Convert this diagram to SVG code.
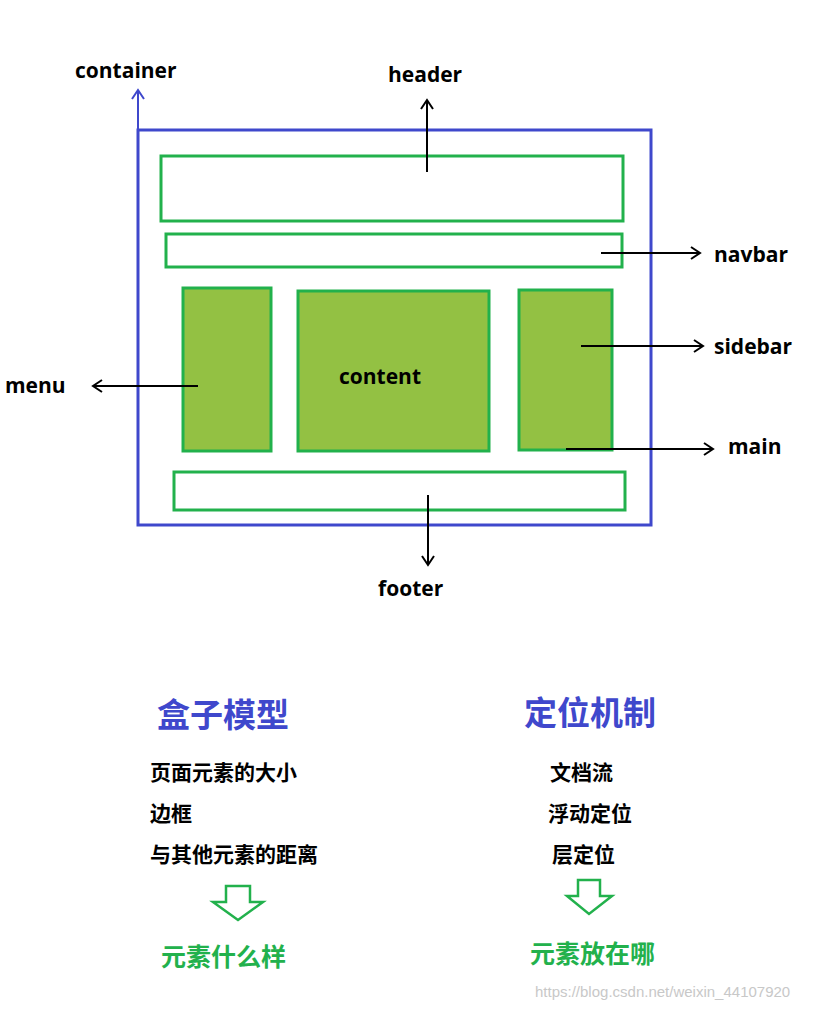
<svg xmlns="http://www.w3.org/2000/svg" width="817" height="1009" viewBox="0 0 817 1009">
<style>
.box{fill:none;stroke:#22b14c;stroke-width:3}
.fill{fill:#93c143;stroke:#22b14c;stroke-width:3}
.arr{stroke:#000;stroke-width:2;fill:none}
.lbl{font-family:"Open Sans","Liberation Sans",sans-serif;font-weight:bold;font-size:21px;fill:#000}
.cn{font-family:"Noto Sans CJK SC",sans-serif;font-weight:bold;font-size:21px;fill:#000}
.h{font-family:"Noto Sans CJK SC",sans-serif;font-weight:bold;font-size:33px;fill:#3f48cc}
.g{font-family:"Noto Sans CJK SC",sans-serif;font-weight:bold;font-size:25px;fill:#22b14c}
</style>
<defs>
<marker id="a" markerWidth="12" markerHeight="14" refX="10" refY="7" orient="auto" markerUnits="userSpaceOnUse"><path d="M1,1 L10,7 L1,13" fill="none" stroke="#000" stroke-width="2"/></marker>
<marker id="ab" markerWidth="12" markerHeight="14" refX="10" refY="7" orient="auto" markerUnits="userSpaceOnUse"><path d="M1,1 L10,7 L1,13" fill="none" stroke="#3f48cc" stroke-width="2"/></marker>
</defs>
<rect width="817" height="1009" fill="#fff"/>
<g id="container"><rect x="138" y="130" width="513" height="395" fill="none" stroke="#3f48cc" stroke-width="3"/></g>
<g id="header"><rect class="box" x="161" y="156" width="462" height="65"/></g>
<g id="navbar"><rect class="box" x="166" y="234" width="456" height="33"/></g>
<g id="menu"><rect class="fill" x="183" y="288" width="88" height="163"/></g>
<g id="content"><rect class="fill" x="298" y="291" width="191" height="160"/><text class="lbl" x="339" y="384">content</text></g>
<g id="sidebar"><rect class="fill" x="519" y="290" width="93" height="160"/></g>
<g id="footer"><rect class="box" x="174" y="472" width="451" height="38"/></g>
<g id="connectors">
<line x1="138" y1="310" x2="138" y2="90" stroke="#3f48cc" stroke-width="2" marker-end="url(#ab)"/>
<line class="arr" x1="427" y1="172" x2="427" y2="100" marker-end="url(#a)"/>
<line class="arr" x1="601" y1="253" x2="700" y2="253" marker-end="url(#a)"/>
<line class="arr" x1="581" y1="346" x2="703" y2="346" marker-end="url(#a)"/>
<line class="arr" x1="198" y1="386" x2="93" y2="386" marker-end="url(#a)"/>
<line class="arr" x1="566" y1="449" x2="713" y2="449" marker-end="url(#a)"/>
<line class="arr" x1="428" y1="495" x2="428" y2="565" marker-end="url(#a)"/>
</g>
<text class="lbl" x="75" y="78">container</text>
<text class="lbl" x="388" y="82">header</text>
<text class="lbl" x="714" y="262">navbar</text>
<text class="lbl" x="714" y="354">sidebar</text>
<text class="lbl" x="5" y="393">menu</text>
<text class="lbl" x="728" y="454">main</text>
<text class="lbl" x="378" y="596">footer</text>
<text class="h" x="157" y="727">盒子模型</text>
<text class="h" x="524" y="725">定位机制</text>
<text class="cn" x="150" y="780">页面元素的大小</text>
<text class="cn" x="150" y="821">边框</text>
<text class="cn" x="150" y="862">与其他元素的距离</text>
<text class="cn" x="550" y="780">文档流</text>
<text class="cn" x="548" y="821">浮动定位</text>
<text class="cn" x="552" y="862">层定位</text>
<path d="M226,886 H250 V902 H263 L238,920 L213,902 H226 Z" fill="#fff" stroke="#22b14c" stroke-width="2.5"/>
<path d="M578,880 H600 V896 H612 L589,914 L567,896 H578 Z" fill="#fff" stroke="#22b14c" stroke-width="2.5"/>
<text class="g" x="161" y="966">元素什么样</text>
<text class="g" x="530" y="963">元素放在哪</text>
<text x="535" y="997" font-family="Liberation Sans,sans-serif" font-size="15" fill="#c8c8c8">https://blog.csdn.net/weixin_44107920</text>
</svg>
